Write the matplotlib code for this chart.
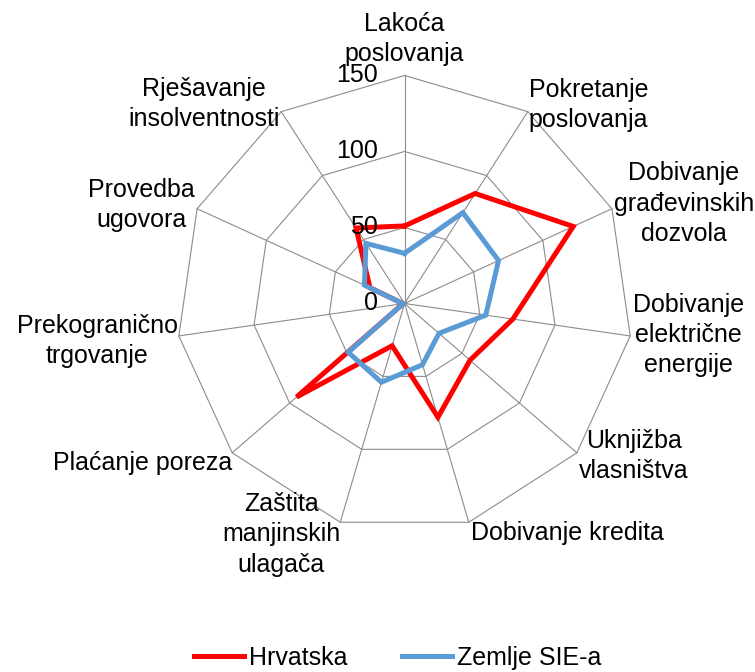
import numpy as np
import matplotlib
matplotlib.use("Agg")
import matplotlib.pyplot as plt

plt.rcParams['font.family'] = ['Liberation Sans', 'DejaVu Sans']

categories = ["Lakoća\nposlovanja", "Pokretanje\nposlovanja", "Dobivanje\ngrađevinskih\ndozvola",
              "Dobivanje\nelektrične\nenergije", "Uknjižba\nvlasništva", "Dobivanje kredita",
              "Zaštita\nmanjinskih\nulagača", "Plaćanje poreza", "Prekogranično\ntrgovanje",
              "Provedba\nugovora", "Rješavanje\ninsolventnosti"]
hrvatska = [51, 86, 122, 72, 57, 78, 29, 94, 1, 25, 59]
sie = [33, 71, 68, 54, 30, 42, 54, 49, 1, 29, 47]
rings = [50, 100, 150]
tick_values = [0, 50, 100, 150]
series_names = ["Hrvatska", "Zemlje SIE-a"]

FS = 18
LS = 1.33
fig = plt.figure(figsize=(7.55, 6.72), dpi=100)
ax = fig.add_axes([0.2338, 0.2091, 0.604, 0.6786], projection='polar')
ax.set_theta_offset(np.pi / 2)
ax.set_theta_direction(-1)
ax.set_ylim(0, 150)
ax.grid(False)
ax.set_xticks([])
ax.set_yticks([])
ax.spines['polar'].set_visible(False)

n = len(categories)
angles = np.linspace(0, 2 * np.pi, n, endpoint=False)
closed = np.concatenate([angles, angles[:1]])

grid_col = '#8c8c8c'
for r in rings:
    ax.plot(closed, [r] * (n + 1), color=grid_col, lw=0.8, clip_on=False, zorder=1)
for a in angles:
    ax.plot([a, a], [0, rings[-1]], color=grid_col, lw=0.8, clip_on=False, zorder=1)

ax.plot(closed, hrvatska + hrvatska[:1], color='#FF0000', lw=3.6, solid_joinstyle='miter',
        clip_on=False, zorder=3, label=series_names[0])
ax.plot(closed, sie + sie[:1], color='#5B9BD5', lw=3.6, solid_joinstyle='miter',
        clip_on=False, zorder=4, label=series_names[1])

for v in tick_values:
    ax.annotate(str(v), xy=(0, v), xytext=(-27, 0), textcoords='offset pixels',
                ha='right', va='center', fontsize=FS, annotation_clip=False, zorder=5)

label_style = [
    ('center', 'bottom', 0, 9),
    ('left', 'center', 1, 7),
    ('left', 'center', 2, 5),
    ('left', 'center', 3, 1),
    ('left', 'center', 2, -3),
    ('left', 'top', 2, 1),
    ('right', 'center', 0, -12),
    ('right', 'center', 0, -10),
    ('right', 'center', -1, -5),
    ('right', 'center', -2, 4),
    ('right', 'center', -2, 8),
]
for a, lab, (ha, va, dx, dy) in zip(angles, categories, label_style):
    ax.annotate(lab, xy=(a, rings[-1]), xytext=(dx, dy), textcoords='offset pixels',
                ha=ha, va=va, multialignment='center', fontsize=FS, linespacing=LS,
                annotation_clip=False)

fig.legend(loc='center', bbox_to_anchor=(397.5 / 755, 1 - 658 / 672), ncol=2, frameon=False,
           fontsize=FS, handlelength=2.0, handletextpad=0.2, columnspacing=2.2)

fig.savefig('out.png', dpi=100, facecolor='white')
